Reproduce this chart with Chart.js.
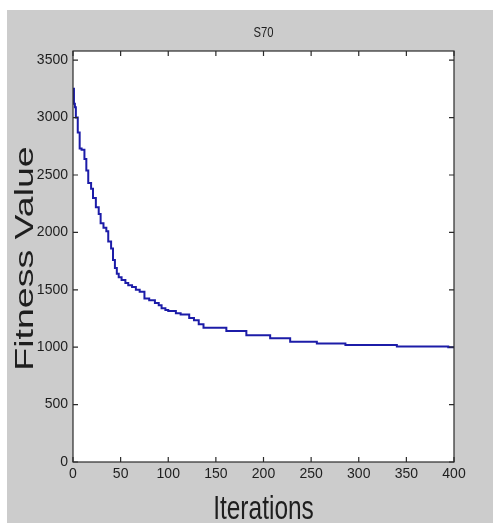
<!DOCTYPE html>
<html>
<head>
<meta charset="utf-8">
<script src="https://cdn.jsdelivr.net/npm/chart.js@4"></script>
<style>
  html, body { margin:0; padding:0; background:#fff; }
  canvas { display:block; }
</style>
</head>
<body>
<canvas id="fit" width="493" height="525"></canvas>
<script>
// best-so-far fitness (value holds from that iteration on)
const iterations = [1, 2, 3, 5, 7, 9, 12, 14, 16, 19, 21, 24, 27, 29, 32, 35, 37, 40, 42, 44, 46, 48,
  51, 55, 58, 62, 66, 70, 75, 80, 86, 90, 93, 97, 100, 108, 113, 122, 127, 132, 137,
  161, 182, 207, 228, 256, 286, 340, 394, 400];
const fitness = [3260, 3120, 3090, 3000, 2870, 2730, 2720, 2640, 2540, 2430, 2380, 2300, 2220, 2160, 2080, 2040, 2010, 1920, 1860, 1760, 1690, 1640,
  1610, 1585, 1560, 1540, 1525, 1500, 1483, 1425, 1410, 1385, 1365, 1340, 1325, 1315, 1295, 1285, 1255, 1235, 1200,
  1170, 1140, 1103, 1077, 1048, 1033, 1019, 1005, 1000];

const xTicks = [0, 50, 100, 150, 200, 250, 300, 350, 400];
const yTicks = [0, 500, 1000, 1500, 2000, 2500, 3000, 3500];

const TXT = "#1e1e1e";
const SANS = "'Liberation Sans', Arial, sans-serif";

// matlab style figure: grey figure, white axes, boxed with inward ticks
const matlabFrame = {
  id: "matlabFrame",
  beforeDraw(chart) {
    const { ctx, chartArea: a } = chart;
    ctx.save();
    ctx.fillStyle = "#fff";
    ctx.fillRect(0, 0, chart.width, chart.height);
    ctx.fillStyle = "#cccccc";
    ctx.fillRect(7, 10, chart.width - 7, 513);
    ctx.fillStyle = "#fff";
    ctx.fillRect(a.left, a.top, a.right - a.left, a.bottom - a.top);
    ctx.restore();
  },
  afterDatasetsDraw(chart) {
    const { ctx, chartArea: a, scales } = chart;
    ctx.save();
    ctx.strokeStyle = "#2a2a2a";
    ctx.lineWidth = 1.2;
    ctx.strokeRect(a.left, a.top, a.right - a.left, a.bottom - a.top);
    const len = 5;
    ctx.beginPath();
    xTicks.forEach(v => {
      const x = scales.x.getPixelForValue(v);
      ctx.moveTo(x, a.bottom); ctx.lineTo(x, a.bottom - len);
      ctx.moveTo(x, a.top); ctx.lineTo(x, a.top + len);
    });
    yTicks.forEach(v => {
      const y = scales.y.getPixelForValue(v);
      ctx.moveTo(a.left, y); ctx.lineTo(a.left + len, y);
      ctx.moveTo(a.right, y); ctx.lineTo(a.right - len, y);
    });
    ctx.stroke();

    // titles (figure was squeezed sideways, so text is narrowed)
    ctx.fillStyle = TXT;
    ctx.textAlign = "center";
    ctx.textBaseline = "alphabetic";

    ctx.save();
    ctx.translate((a.left + a.right) / 2, 37);
    ctx.scale(0.75, 1);
    ctx.font = "15px " + SANS;
    ctx.fillText("S70", 0, 0);
    ctx.restore();

    ctx.save();
    ctx.translate((a.left + a.right) / 2, 519);
    ctx.scale(0.72, 1);
    ctx.font = "34px " + SANS;
    ctx.fillText("Iterations", 0, 0);
    ctx.restore();

    ctx.save();
    ctx.translate(33, (a.top + a.bottom) / 2 + 2);
    ctx.rotate(-Math.PI / 2);
    ctx.scale(1, 0.7);
    ctx.font = "37.5px " + SANS;
    ctx.fillText("Fitness Value", 0, 0);
    ctx.restore();
    ctx.restore();
  }
};

new Chart(document.getElementById("fit"), {
  type: "line",
  data: {
    datasets: [{
      data: iterations.map((it, i) => ({ x: it, y: fitness[i] })),
      stepped: "after",
      borderColor: "#1c1ca8",
      borderWidth: 2,
      pointRadius: 0,
      fill: false
    }]
  },
  options: {
    responsive: false,
    devicePixelRatio: 1,
    animation: false,
    layout: { padding: { top: 51, right: 39, left: 0, bottom: 0 } },
    plugins: { legend: { display: false }, tooltip: { enabled: false } },
    scales: {
      x: {
        type: "linear", min: 0, max: 400,
        grid: { display: false, drawTicks: false },
        border: { display: false },
        afterFit: s => { s.height = 63; },
        afterBuildTicks: s => { s.ticks = xTicks.map(v => ({ value: v })); },
        ticks: { color: TXT, padding: 4, maxRotation: 0, font: { family: SANS, size: 14 },
          callback: v => String(v) }
      },
      y: {
        min: 0, max: 3580,
        grid: { display: false, drawTicks: false },
        border: { display: false },
        afterFit: s => { s.width = 73; },
        afterBuildTicks: s => { s.ticks = yTicks.map(v => ({ value: v })); },
        ticks: { color: TXT, padding: 5, font: { family: SANS, size: 14 },
          callback: v => String(v) }
      }
    }
  },
  plugins: [matlabFrame]
});
</script>
</body>
</html>
